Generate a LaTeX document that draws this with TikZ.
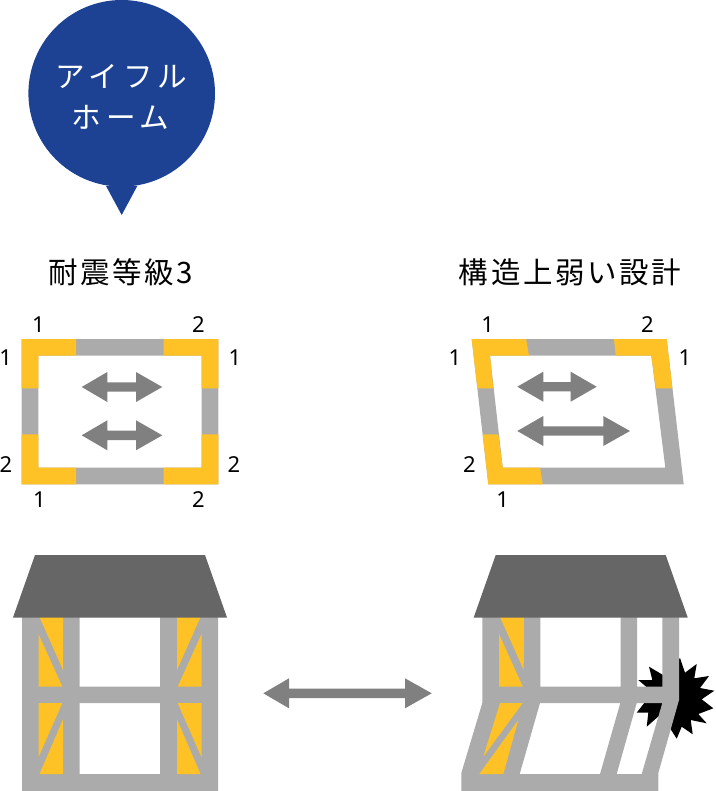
\documentclass[tikz,border=0pt]{standalone}
\usepackage{fontspec}
\setmainfont{Noto Sans}
\newfontfamily\jpfont{Noto Sans CJK JP}[LetterSpace=9]
\newfontfamily\jpwide{Noto Sans CJK JP}[LetterSpace=17]
\definecolor{wallgrey}{HTML}{ABABAB}
\definecolor{braceyellow}{HTML}{FFC226}
\definecolor{arrowgrey}{HTML}{808080}
\definecolor{roofgrey}{HTML}{666666}
\definecolor{bubbleblue}{HTML}{1D4293}
\tikzset{
  frame/.style={fill=wallgrey,even odd rule},
  brace/.style={fill=braceyellow},
  roof/.style={fill=roofgrey},
  dblarrow/.style={fill=arrowgrey},
  num/.style={inner sep=0pt,font=\fontsize{22}{24}\selectfont},
  heading/.style={inner sep=0pt,anchor=center,font=\fontsize{29.5}{32}\selectfont\jpfont},
  bubbletext/.style={inner sep=0pt,text=white,font=\fontsize{29.6}{32}\selectfont\jpwide}
}
% tipL baseL baseR tipR cy
\newcommand{\twoarrow}[5]{\fill[dblarrow] (#1,#5) -- (#2,#5-15) -- (#2,#5-4.7) -- (#3,#5-4.7) -- (#3,#5-15) -- (#4,#5) -- (#3,#5+15) -- (#3,#5+4.7) -- (#2,#5+4.7) -- (#2,#5+15) -- cycle;}
\begin{document}
\begin{tikzpicture}[x=1pt,y=-1pt]
\useasboundingbox (0,0) rectangle (715,791);
% bubble
\fill[bubbleblue] (121.7,93.3) circle[radius=93.3];
\fill[bubbleblue] (106,186) -- (121.7,215) -- (137.3,186) -- cycle;
\node[bubbletext] (b1) at (121.5,76) {アイフル};
\node[bubbletext] (b2) at (120.5,117) {ホーム};
% headings
\node[heading] (h1) at (120.5,272) {耐震等級3};
\node[heading] (h2) at (570.2,272) {構造上弱い設計};
% left plan
\fill[frame] (21.7,339) rectangle (218.3,484.3) (38.3,355.7) rectangle (201.7,467.7);
\fill[brace] (21.7,339) -- (76,339) -- (76,355.7) -- (38.3,355.7) -- (38.3,388.3) -- (21.7,388.3) -- cycle;
\fill[brace] (218.3,339) -- (163.7,339) -- (163.7,355.7) -- (201.7,355.7) -- (201.7,388.3) -- (218.3,388.3) -- cycle;
\fill[brace] (21.7,484.3) -- (76,484.3) -- (76,467.7) -- (38.3,467.7) -- (38.3,434.3) -- (21.7,434.3) -- cycle;
\fill[brace] (218.3,484.3) -- (163.7,484.3) -- (163.7,467.7) -- (201.7,467.7) -- (201.7,434.3) -- (218.3,434.3) -- cycle;
\twoarrow{81.7}{107.3}{136}{162.3}{387}
\twoarrow{81.7}{107.3}{136}{162.3}{435.3}
\node[num] (l1) at (38.3,325) {1};
\node[num] (l2) at (198.3,325) {2};
\node[num] (l3) at (5.7,357.7) {1};
\node[num] (l4) at (235,357.7) {1};
\node[num] (l5) at (6,464.3) {2};
\node[num] (l6) at (234,464.3) {2};
\node[num] (l7) at (39.3,500) {1};
\node[num] (l8) at (198.3,500) {2};
% right plan
\fill[frame] (471.7,339) -- (666.7,339) -- (683.7,484.3) -- (488.3,484.3) -- cycle (490,355.7) -- (651.3,355.7) -- (665.3,467.7) -- (502.7,467.7) -- cycle;
\fill[brace] (471.7,339) -- (526,339) -- (529,355.7) -- (490,355.7) -- (493.3,388.3) -- (477.3,388.3) -- cycle;
\fill[brace] (614,339) -- (666.7,339) -- (672.3,388.3) -- (655.7,388.3) -- (651.3,355.7) -- (615.7,355.7) -- cycle;
\fill[brace] (482.7,434.3) -- (498.3,434.3) -- (502.7,467.7) -- (540,467.7) -- (542.7,484.3) -- (488.3,484.3) -- cycle;
\twoarrow{517.3}{543.3}{570.7}{596.7}{386.7}
\twoarrow{517.3}{543.3}{603.3}{630}{431}
\node[num] (r1) at (487.7,325) {1};
\node[num] (r2) at (647.3,325) {2};
\node[num] (r3) at (455,357.7) {1};
\node[num] (r4) at (685,357.7) {1};
\node[num] (r5) at (469.3,464.3) {2};
\node[num] (r6) at (502.7,500) {1};
% left house
\fill[frame] (22,617) rectangle (218,791) (79.5,617) rectangle (160,686.5) (79.5,703) rectangle (160,774);
\fill[brace] (39.5,617) -- (63,617) -- (63,670) -- cycle;
\fill[brace] (38.5,634) -- (38.5,686.5) -- (62.3,686.5) -- cycle;
\fill[brace] (38.5,703) -- (62.3,703) -- (38.5,757.3) -- cycle;
\fill[brace] (63,719.3) -- (63,774) -- (39.5,774) -- cycle;
\fill[brace] (200.5,617) -- (177,617) -- (177,670) -- cycle;
\fill[brace] (201.5,634) -- (201.5,686.5) -- (177.7,686.5) -- cycle;
\fill[brace] (201.5,703) -- (177.7,703) -- (201.5,757.3) -- cycle;
\fill[brace] (177,719.3) -- (177,774) -- (200.5,774) -- cycle;
\fill[roof] (35,555) -- (205,555) -- (227,617.5) -- (13,617.5) -- cycle;
% middle arrow
\twoarrow{263.3}{289}{405}{431.7}{693.3}
% burst
\fill[black] (680,658) -- (685,672.7) -- (696.7,664) -- (694.3,678.3) -- (709,676) -- (700,688) -- (714.3,690.7) -- (701.7,699.3) -- (713.3,708.3) -- (698.3,714) -- (706.7,723.3) -- (690.7,720) -- (692.7,734.3) -- (681.7,726.7) -- (676.7,738.7) -- (668,725) -- (660,715) -- (646.7,726.7) -- (648.3,712.7) -- (636.7,712.7) -- (645,702) -- (650,690) -- (638.3,680) -- (652.3,680) -- (649,666.7) -- (663,675) -- cycle;
% right house
\fill[frame] (482.3,617) -- (679,617) -- (679,700) -- (658.3,773) -- (658.3,791) -- (461.3,791) -- (461.3,773) -- (482.3,703) -- cycle
  (540.3,617) rectangle (620.7,686.5)
  (637,617) rectangle (662.3,686.5)
  (540,703) -- (620.3,703) -- (600,774) -- (519.7,774) -- cycle
  (636.7,703) -- (662.3,703) -- (641.7,774) -- (616.7,774) -- cycle;
\fill[brace] (500,617) -- (524,617) -- (523.7,670) -- cycle;
\fill[brace] (499,634) -- (499,686.5) -- (522.7,686.5) -- cycle;
\fill[brace] (500,703) -- (522.7,703) -- (483.3,756.7) -- cycle;
\fill[brace] (518.3,720) -- (503.3,774) -- (479.3,774) -- cycle;
\fill[roof] (495.7,555) -- (665.7,555) -- (687.7,617.5) -- (473.7,617.5) -- cycle;
\end{tikzpicture}
\end{document}
